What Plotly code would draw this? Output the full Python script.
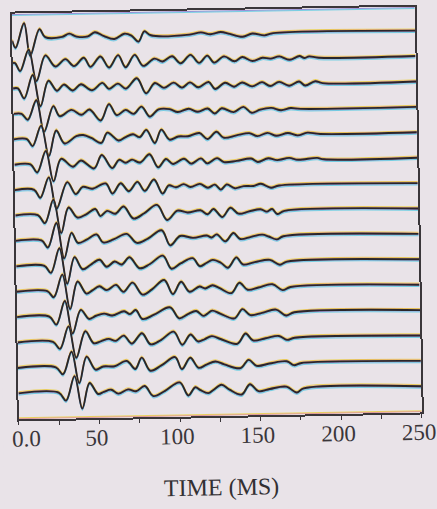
import plotly.graph_objects as go

# Record-section wiggle traces: time (ms) and amplitude (trace-spacing units)
# of the turning points of each trace, top trace first.
time_ms = [
    [0, 2, 7.5, 11, 17, 20.5, 31, 35.4, 40, 47, 51.3, 57, 63.4, 69.6, 74, 78.3, 82, 86, 110, 117.1, 123, 129.4, 135, 143, 149, 156.5, 162, 250],
    [0, 1.5, 4.6, 10.1, 14.6, 20.4, 26.4, 32.8, 38, 44.2, 48.3, 54.5, 59.8, 65.5, 70, 75.8, 81, 88, 93, 99, 104.2, 110.4, 115.7, 120.8, 125, 131.2, 137.6, 142.5, 148.8, 155, 160, 165.5, 171.7, 178, 181, 184, 190, 250],
    [0, 3, 6.8, 12.3, 16.8, 22, 27.2, 31.5, 37.1, 42.1, 49, 55.5, 59.5, 65.1, 70, 76.9, 82.5, 88, 93.6, 99.7, 104.8, 109.8, 114.8, 121.4, 125.3, 131.6, 137.1, 142.1, 148.3, 154.5, 159.5, 165.1, 171.3, 177.5, 181.2, 187.5, 192, 250],
    [0, 5, 8.8, 14.3, 18.8, 24.8, 28.6, 36, 42.2, 47.2, 54, 59.3, 64, 69.6, 74.5, 79.5, 84.5, 90, 96.9, 101.9, 108.7, 114.3, 120.5, 124.8, 129.2, 136.6, 142.7, 147.8, 153, 160, 166, 172, 178, 250],
    [0, 8, 11.5, 17, 21.5, 26.3, 31.4, 38.7, 43, 48, 54.2, 58, 64.8, 69, 73.9, 78, 82.2, 87.3, 91.5, 96.5, 102, 108, 115.1, 120, 125.7, 130, 138, 146, 151, 157.3, 163, 170, 176, 182, 190, 250],
    [0, 10, 14.1, 19.6, 24.1, 29, 36.3, 41.3, 49.4, 54.3, 60.6, 65, 69, 73, 78, 83.9, 89.1, 94.1, 98.4, 105.3, 109.6, 115.8, 119.6, 125.8, 130, 138, 146.9, 151, 157.5, 163, 170.5, 176, 187.9, 192, 250],
    [0, 12, 15.7, 21.2, 25.7, 32.6, 37.8, 42.1, 48, 56.4, 60.6, 65.7, 70.7, 76.1, 80.6, 86.4, 91.6, 95.5, 100, 104.8, 109, 114.8, 119.8, 124.1, 127.8, 131.5, 136.5, 142, 148, 152.7, 158.9, 164, 250],
    [0, 14, 18.3, 23.8, 28.3, 33.1, 38.5, 44, 49.7, 52.8, 57, 62, 67.3, 73.3, 80, 88, 94.2, 100.6, 107, 114.9, 119.3, 123, 128.4, 133.5, 138.5, 145, 152.2, 156, 159.4, 162.5, 167, 250],
    [0, 16, 19.9, 25.4, 29.9, 34.7, 38.6, 44, 50.2, 54.2, 61, 68.9, 75.1, 82, 90.6, 95.8, 102, 110, 118.6, 121.5, 124.8, 130, 135.1, 139.3, 146, 153, 157, 162, 166, 250],
    [0, 17.5, 21.5, 27, 31.5, 36.3, 41.2, 46, 51.8, 56.1, 61.1, 65.5, 70.4, 76.6, 83, 91.1, 96.3, 102, 109.6, 113.9, 118, 122, 127, 131.3, 136.7, 140.6, 148, 157.4, 163.6, 168, 250],
    [0, 19, 23, 28.5, 33, 37.9, 43.3, 47, 51.4, 56, 61.7, 66.3, 72, 78.1, 84, 91.7, 96.9, 102.1, 107.3, 113.5, 117, 121.6, 126, 133.2, 138.3, 143.3, 150, 158.8, 165, 170, 250],
    [0, 20, 24.3, 29.8, 34.3, 39.6, 44.7, 49, 54, 59, 66.5, 70, 73.7, 77.8, 85, 95, 100.6, 106, 111.2, 115.5, 118, 121.1, 126, 134.8, 139.9, 144.7, 152, 160.7, 166.9, 172, 250],
    [0, 22, 26.3, 31.8, 36.3, 42.2, 47.3, 52, 56.6, 61, 66, 70.9, 77.3, 82.5, 89, 97, 102.2, 107.4, 111.9, 116, 120.6, 126, 136.3, 141.6, 146.1, 154, 162.2, 167.2, 172, 250],
    [0, 23.5, 27.9, 33.4, 37.9, 42.7, 48.1, 53, 60, 67.6, 72.8, 76.9, 82.1, 89, 97.6, 101.7, 107, 112.1, 117, 122.5, 128, 138, 143.2, 148.1, 156, 166.8, 171.1, 176, 250],
    [0, 25, 29.5, 35, 39.5, 44.3, 49.5, 53, 57.6, 62, 68.1, 73, 78.5, 83.7, 91, 100.2, 105.4, 109.8, 113, 117.8, 121, 126.1, 131, 138.5, 143.7, 148.9, 156, 166.3, 172.7, 177, 250],
]

amplitude = [
    [-0.12, -0.4, 0.56, -0.72, 0.32, 0, 0, 0.12, 0, 0, 0.16, 0, -0.12, 0.08, 0, -0.24, 0.16, 0, 0, 0.08, 0, 0.08, 0, -0.12, 0, -0.08, 0, 0],
    [0, 0, -0.32, 0.52, -0.72, 0.28, -0.16, 0.12, -0.16, 0.16, -0.2, 0.2, -0.24, 0.24, -0.24, 0.24, -0.2, 0.08, -0.04, 0.16, -0.12, 0.2, -0.12, 0.16, -0.12, 0.12, -0.08, 0.08, -0.08, 0.04, 0, 0.08, -0.06, 0.08, 0, 0.06, 0, 0],
    [0, 0, -0.4, 0.52, -0.72, 0.28, -0.12, 0.12, -0.12, 0.12, -0.12, 0.16, -0.08, 0.12, -0.08, 0.32, -0.28, 0.12, -0.08, 0.12, -0.08, 0.12, -0.08, 0.12, -0.16, 0.08, -0.08, 0.08, -0.08, 0.08, -0.08, 0.08, -0.08, 0.08, -0.08, 0.08, 0, 0],
    [0, 0, -0.24, 0.52, -0.72, 0.28, -0.12, 0.12, -0.08, 0.12, -0.32, 0.32, -0.12, 0.08, -0.08, 0.2, -0.2, 0.08, 0.08, -0.04, 0.08, -0.04, 0.08, -0.12, 0.08, -0.08, 0.12, -0.12, 0, 0.06, -0.04, 0.04, 0, 0],
    [0, 0, -0.28, 0.52, -0.68, 0.32, -0.2, 0.08, 0.12, 0, -0.2, 0.2, -0.12, 0, 0.12, 0, 0.28, -0.24, 0.28, -0.12, 0, 0, 0.12, -0.12, 0.16, -0.08, 0, 0.08, -0.04, 0.08, -0.04, 0.06, -0.04, 0.06, 0, 0],
    [0, 0, -0.32, 0.52, -0.68, 0.2, -0.12, 0.12, -0.2, 0.32, -0.2, 0.12, 0, 0.12, 0, 0.32, -0.2, 0.12, -0.08, 0.12, -0.08, 0.12, -0.08, 0.12, -0.04, 0, 0.08, -0.06, 0.08, 0, 0.08, 0, 0.06, 0, 0],
    [0, 0, -0.32, 0.48, -0.76, 0.28, -0.2, 0.08, 0, 0.2, -0.2, 0.2, -0.12, 0.24, -0.12, 0.32, -0.24, 0.08, 0, 0.12, 0, 0.12, -0.04, 0.08, -0.12, 0.08, -0.08, 0, 0, 0.08, -0.08, 0, 0],
    [0, 0, -0.32, 0.6, -0.72, 0.28, -0.12, 0, 0.2, -0.08, 0.12, 0, 0.28, -0.2, 0, 0.32, -0.28, 0.08, 0, 0.08, -0.08, 0.12, -0.2, 0.16, -0.08, 0, 0.08, -0.02, 0.08, -0.12, 0, 0],
    [0, 0, -0.28, 0.68, -0.72, 0.28, -0.12, 0, 0.2, -0.12, 0, 0.2, -0.16, 0, 0.32, -0.28, 0.08, 0, 0.08, 0, 0.12, -0.16, 0.16, -0.08, 0, 0.08, 0, -0.12, 0, 0],
    [0, 0, -0.28, 0.68, -0.72, 0.32, -0.16, 0, 0.2, -0.08, 0.12, 0, 0.28, -0.16, 0, 0.32, -0.2, 0, 0.2, -0.12, 0, 0.12, 0, -0.2, 0.2, -0.08, 0, 0.08, -0.12, 0, 0],
    [0, 0, -0.24, 0.64, -0.72, 0.36, -0.12, 0, 0.16, 0, 0.2, -0.08, 0.28, -0.2, 0, 0.36, -0.2, 0.28, -0.12, 0.08, 0, 0.12, 0, -0.2, 0.2, -0.08, 0, 0.12, -0.12, 0, 0],
    [0, 0, -0.32, 0.6, -0.68, 0.24, -0.12, 0, 0.08, 0, 0.16, 0.04, 0.2, -0.16, 0, 0.28, -0.16, 0, 0.12, -0.08, 0, 0.12, 0, -0.2, 0.16, -0.08, 0, 0.12, -0.12, 0, 0],
    [0, 0, -0.28, 0.6, -0.64, 0.4, -0.08, 0, 0.08, 0, 0.2, -0.12, 0.28, -0.16, 0, 0.32, -0.2, 0.2, -0.08, 0, 0.12, 0, -0.2, 0.2, -0.08, 0, 0.08, -0.08, 0, 0],
    [0, 0, -0.28, 0.6, -0.64, 0.4, -0.12, 0, 0, 0.2, -0.12, 0.32, -0.2, 0, 0.32, -0.16, 0.28, -0.12, 0, 0.12, 0, -0.16, 0.16, -0.08, 0, 0.08, -0.08, 0, 0],
    [0, 0, -0.32, 0.64, -0.64, 0.36, -0.08, 0, 0.08, -0.08, 0.08, 0, 0.2, -0.2, 0, 0.32, -0.2, 0.12, 0, -0.12, 0, 0.2, 0, -0.2, 0.2, -0.08, 0, 0.08, -0.16, 0, 0],
]

tick_values = [0, 50, 100, 150, 200, 250]
tick_labels = ["0.0", "50", "100", "150", "200", "250"]
x_title = "TIME (MS)"

PAPER = "#e9e3e8"
INK = "#2a262a"
AXIS = "#3a363a"
SERIF = "Liberation Serif, Times New Roman, serif"
TICK_SIZE = 23

# printing misregistration: coloured ghosts just above / below each ink line
ghosts = [
    (0.065, "rgba(235,205,40,0.7)", 1.0),
    (0.032, "rgba(215,70,60,0.5)", 0.9),
    (-0.04, "rgba(70,60,200,0.55)", 0.9),
    (-0.075, "rgba(60,200,225,0.65)", 1.0),
]

fig = go.Figure()
n = len(time_ms)
for i, (t, a) in enumerate(zip(time_ms, amplitude)):
    base = n - i
    for dy, col, w in ghosts:
        fig.add_trace(go.Scatter(
            x=t, y=[base + v + dy for v in a], mode="lines",
            line=dict(color=col, width=w, shape="spline", smoothing=1.0),
            hoverinfo="skip", showlegend=False))
    fig.add_trace(go.Scatter(
        x=t, y=[base + v for v in a], mode="lines",
        line=dict(color=INK, width=1.9, shape="spline", smoothing=1.0),
        showlegend=False, name=f"trace {i + 1}"))

y_top, y_bot = n + 0.95, -0.03

# frame ghosts along the top and bottom borders
for yb in (y_top, y_bot):
    for dy, col, w in ghosts:
        fig.add_shape(type="line", xref="x", yref="y", x0=0, x1=250,
                      y0=yb + dy, y1=yb + dy, line=dict(color=col, width=w))

# the origin label sits a little right of its tick, clear of the left edge
fig.add_annotation(
    x=tick_values[0], xref="x", y=0, yref="paper",
    text=tick_labels[0], showarrow=False,
    xanchor="center", yanchor="middle", xshift=7, yshift=-19,
    font=dict(size=TICK_SIZE, family=SERIF, color=AXIS),
)

fig.update_layout(
    width=437, height=509,
    margin=dict(l=16, r=18, t=10, b=93, autoexpand=False),
    paper_bgcolor=PAPER, plot_bgcolor=PAPER,
    font=dict(family=SERIF, color=AXIS),
)
fig.update_xaxes(
    range=[0, 250], showgrid=False, zeroline=False, automargin=False,
    showline=True, linecolor=AXIS, linewidth=1.6, mirror=True,
    tickmode="array", tickvals=tick_values, ticktext=[""] + tick_labels[1:],
    ticks="outside", ticklen=4, tickwidth=1.2, tickcolor=AXIS,
    minor=dict(tick0=0, dtick=25, ticks="outside", ticklen=4, tickwidth=1.2, tickcolor=AXIS),
    tickfont=dict(size=TICK_SIZE, family=SERIF, color=AXIS),
    ticklabelstandoff=-6, ticklabelshift=-3, ticklabeloverflow="allow",
    title=dict(text=x_title, font=dict(size=24, family=SERIF, color="#333033"), standoff=31),
)
fig.update_yaxes(
    range=[y_bot, y_top], showgrid=False, zeroline=False, automargin=False,
    showline=True, linecolor=AXIS, linewidth=1.6, mirror=True,
    showticklabels=False, ticks="",
)

page_js = """
var gd = document.getElementById('{plot_id}');
document.documentElement.style.background = '%s';
document.body.style.background = '%s';
document.body.style.margin = '0';
document.body.style.overflow = 'hidden';
gd.style.transformOrigin = '50%% 50%%';
gd.style.transform = 'rotate(-1deg)';
""" % (PAPER, PAPER)

fig.write_html("out.html", post_script=page_js)
